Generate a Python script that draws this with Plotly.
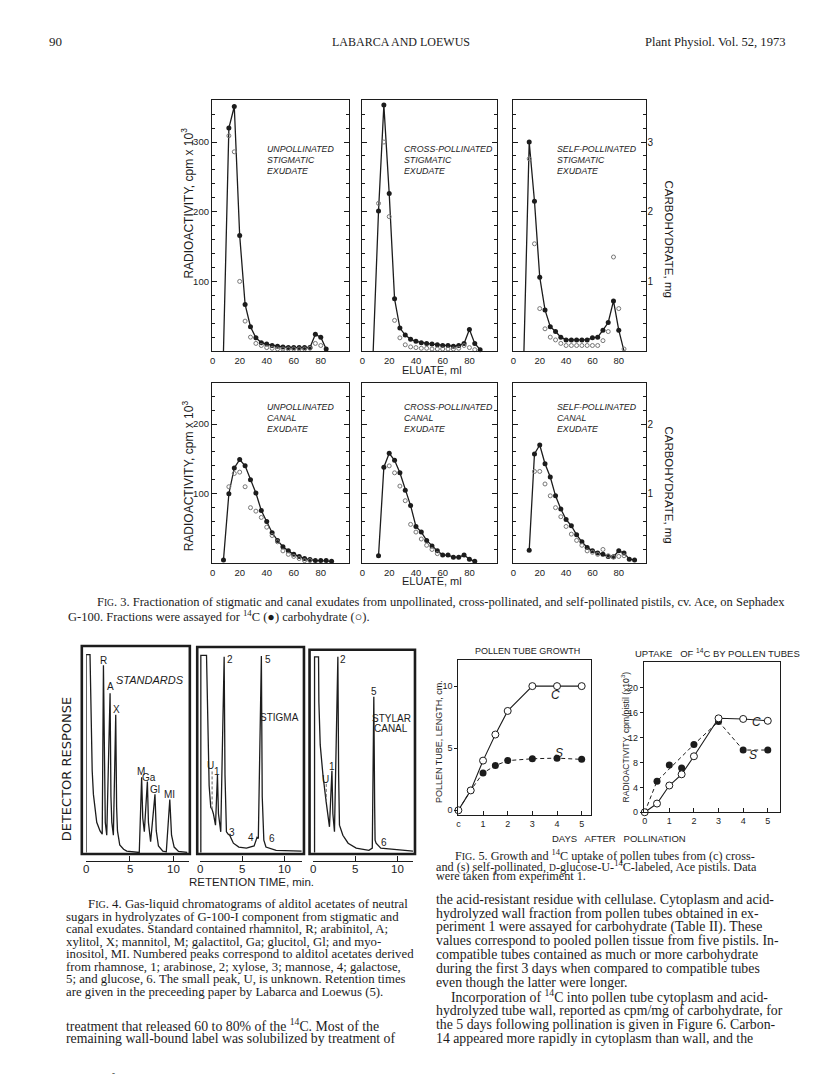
import plotly.graph_objects as go

W, H = 816, 1091
SANS = "Liberation Sans, Arial, sans-serif"
SERIF = "Liberation Serif, Times New Roman, serif"
INK = "#1c1c1c"

# ---------------- Fig. 3: eluate (ml), 14C (cpm x 10^3), carbohydrate (mg) ----------------
ELU_US = [8, 12, 16, 20, 24, 28, 32, 36, 40, 44, 48, 52, 56, 60, 64, 68, 72, 76, 80, 84]
CPM_US = [0, 320, 351, 166, 67, 35, 19, 12, 10, 8, 7, 6, 5, 5, 5, 5, 5, 24, 20, 3]
ELU_US_C = [12, 16, 20, 24, 28, 32, 36, 40, 44, 48, 52, 56, 60, 64, 68, 72, 76, 80]
CHO_US = [3.09, 2.86, 1.0, 0.43, 0.2, 0.11, 0.08, 0.05, 0.04, 0.03, 0.03, 0.03, 0.03, 0.03, 0.03, 0.04, 0.11, 0.08]

ELU_CS = [8, 12, 16, 20, 24, 28, 32, 36, 40, 44, 48, 52, 56, 60, 64, 68, 72, 76, 80, 84, 88]
CPM_CS = [0, 201, 353, 226, 75, 33, 23, 17, 14, 12, 11, 10, 9, 8, 8, 7, 8, 11, 31, 11, 2]
ELU_CS_C = [12, 16, 20, 24, 28, 32, 36, 40, 44, 48, 52, 56, 60, 64, 68, 72, 76, 80, 84]
CHO_CS = [2.12, 3.0, 1.93, 0.44, 0.19, 0.09, 0.06, 0.05, 0.04, 0.04, 0.03, 0.03, 0.03, 0.03, 0.03, 0.04, 0.08, 0.05, 0.02]

ELU_SS = [8, 12, 16, 20, 24, 28, 32, 36, 40, 44, 48, 52, 56, 60, 64, 68, 72, 76, 80, 84]
CPM_SS = [0, 300, 215, 106, 59, 35, 28, 20, 16, 16, 16, 16, 16, 19, 20, 30, 41, 72, 30, 0]
ELU_SS_C = [12, 16, 20, 24, 28, 32, 36, 40, 44, 48, 52, 56, 60, 64, 68, 72, 76, 80, 84]
CHO_SS = [2.76, 1.54, 0.61, 0.32, 0.2, 0.16, 0.11, 0.08, 0.08, 0.08, 0.08, 0.08, 0.08, 0.08, 0.15, 0.28, 1.35, 0.61, 0.03]

ELU_UC = [8, 12, 16, 20, 24, 28, 32, 36, 40, 44, 48, 52, 56, 60, 64, 68, 72, 76, 80, 84, 88]
CPM_UC = [5, 100, 137, 149, 140, 120, 101, 76, 60, 44, 33, 24, 18, 13, 10, 7, 5.5, 4, 4, 4, 3]
ELU_UC_C = [12, 16, 20, 24, 28, 32, 36, 40, 44, 48, 52, 56, 60, 64, 68, 72]
CHO_UC = [1.1, 1.29, 1.31, 1.1, 0.8, 0.75, 0.66, 0.52, 0.4, 0.31, 0.18, 0.13, 0.1, 0.07, 0.04, 0.04]

ELU_CC = [12, 16, 20, 24, 28, 32, 36, 40, 44, 48, 52, 56, 60, 64, 68, 72, 76, 80, 84]
CPM_CC = [11, 138, 158, 148, 130, 105, 83, 53, 45, 33, 25, 18, 12, 12, 9, 9, 12, 6, 3]
ELU_CC_C = [20, 24, 28, 32, 36, 40, 44, 48, 52, 56]
CHO_CC = [1.4, 1.3, 1.11, 0.9, 0.56, 0.45, 0.35, 0.26, 0.2, 0.14]

ELU_SC = [12, 16, 20, 24, 28, 32, 36, 40, 44, 48, 52, 56, 60, 64, 68, 72, 76, 80, 84, 88, 92]
CPM_SC = [19, 157, 170, 143, 124, 97, 78, 63, 54, 41, 31, 23, 18, 15, 13, 10, 9.5, 18, 15, 6, 5]
ELU_SC_C = [16, 20, 24, 28, 32, 36, 40, 44, 48, 52, 56, 60, 64, 68, 72, 76, 80, 84]
CHO_SC = [1.32, 1.32, 1.14, 0.97, 0.8, 0.67, 0.53, 0.42, 0.33, 0.26, 0.18, 0.16, 0.13, 0.2, 0.11, 0.09, 0.1, 0.11]

FIG3 = [
    (("UNPOLLINATED", "STIGMATIC", "EXUDATE"), ELU_US, CPM_US, ELU_US_C, CHO_US),
    (("CROSS-POLLINATED", "STIGMATIC", "EXUDATE"), ELU_CS, CPM_CS, ELU_CS_C, CHO_CS),
    (("SELF-POLLINATED", "STIGMATIC", "EXUDATE"), ELU_SS, CPM_SS, ELU_SS_C, CHO_SS),
    (("UNPOLLINATED", "CANAL", "EXUDATE"), ELU_UC, CPM_UC, ELU_UC_C, CHO_UC),
    (("CROSS-POLLINATED", "CANAL", "EXUDATE"), ELU_CC, CPM_CC, ELU_CC_C, CHO_CC),
    (("SELF-POLLINATED", "CANAL", "EXUDATE"), ELU_SC, CPM_SC, ELU_SC_C, CHO_SC),
]

# ---------------- Fig. 4: retention time (min) vs detector response (%) ----------------
STD_T = [0.0, 0.0, 0.45, 0.5, 0.57, 0.7, 0.84, 1.0, 1.22, 1.6, 1.85, 1.99, 2.1, 2.2, 2.37, 2.75, 2.85,
         2.95, 3.13, 3.4, 3.5, 3.6, 3.86, 4.3, 4.66, 6.0, 6.1, 6.37, 6.5, 6.68, 7.03, 7.15, 7.4, 7.9,
         8.05, 8.3, 8.8, 9.2, 9.6, 9.8, 10.1, 10.6, 11.6]
STD_R = [4, 96, 96, 80, 58, 42, 31, 24, 18, 14, 12.5, 91, 30, 18, 12, 78, 30, 18, 12, 68, 25, 14,
         7.5, 5.5, 4.6, 4, 4, 39, 20, 13.6, 37, 18, 9, 31, 14, 7, 4.6, 4.3, 28.6, 12, 6.5, 4.5, 4]
STIG_T = [0.12, 0.12, 0.79, 0.82, 0.9, 0.99, 1.1, 1.29, 1.45, 1.6, 1.85, 2.08, 2.2, 2.47, 2.87, 2.97,
          3.14, 3.35, 3.53, 3.7, 3.96, 4.6, 5.5, 6.4, 6.6, 6.75, 6.9, 7.26, 7.36, 7.46, 7.55, 7.8, 9.0, 12.0]
STIG_R = [4, 95.7, 95.7, 90, 74, 51, 35, 25, 24, 22, 16.7, 40, 22, 13.6, 95, 40, 13.6, 12.5, 12, 10.5,
          8.3, 6.5, 6, 7, 9, 11, 10.5, 95.4, 30, 11, 9.7, 6.5, 5, 4.6]
CANAL_T = [0.19, 0.19, 0.66, 0.7, 0.86, 1.18, 1.56, 1.76, 1.95, 2.24, 2.35, 2.54, 2.94, 3.03, 3.13,
           3.53, 4.15, 5.1, 6.6, 7.0, 7.18, 7.28, 7.33, 7.45, 8.0, 11.8]
CANAL_R = [4, 95, 95, 74, 54, 40, 27.5, 21.3, 15.9, 42, 22, 13.6, 95, 40, 16.7, 12, 8.3, 6, 5, 6,
           76.4, 25, 9.7, 8.3, 6, 4.6]
U_STIG = (1.45, 24, 42)
U_CANAL = (1.57, 27.5, 36)
RT_TICKS = [0, 5, 10]

# ---------------- Fig. 5: days after pollination ----------------
DAYS = [0, 0.5, 1, 1.5, 2, 3, 4, 5]
GROWTH_C = [0, 1.6, 4.0, 6.1, 8.0, 10, 10, 10]
GROWTH_S = [0, 1.6, 3.0, 3.6, 4.0, 4.15, 4.2, 4.1]
UPTAKE_C = [0, 1.4, 4.3, 6.1, 9.0, 15.1, 15.0, 14.7]
UPTAKE_S = [0, 5.0, 7.6, 7.1, 10.9, 14.6, 10.0, 10.0]
UPTAKE_S_LINE = [0, 1, 4, 5, 6, 7]  # indices the dashed S line runs through

# ---------------- page text ----------------
FIG3_CAPTION = [
    "F<span style='font-size:9.5px'>IG</span>. 3. Fractionation of stigmatic and canal exudates from unpollinated, cross-pollinated, and self-pollinated pistils, cv. Ace, on Sephadex",
    "G-100. Fractions were assayed for <sup>14</sup>C (●) carbohydrate (○).",
]
FIG4_CAPTION = [
    "F<span style='font-size:10px'>IG</span>. 4. Gas-liquid chromatograms of alditol acetates of neutral",
    "sugars in hydrolyzates of G-100-I component from stigmatic and",
    "canal exudates. Standard contained rhamnitol, R; arabinitol, A;",
    "xylitol, X; mannitol, M; galactitol, Ga; glucitol, Gl; and myo-",
    "inositol, MI. Numbered peaks correspond to alditol acetates derived",
    "from rhamnose, 1; arabinose, 2; xylose, 3; mannose, 4; galactose,",
    "5; and glucose, 6. The small peak, U, is unknown. Retention times",
    "are given in the preceeding paper by Labarca and Loewus (5).",
]
BODY_LEFT = [
    "treatment that released 60 to 80% of the <sup>14</sup>C. Most of the",
    "remaining wall-bound label was solubilized by treatment of",
]
FIG5_CAPTION = [
    "F<span style='font-size:10px'>IG</span>. 5. Growth and <sup>14</sup>C uptake of pollen tubes from (c) cross-",
    "and (s) self-pollinated, <span style='font-size:9.5px'>D</span>-glucose-U-<sup>14</sup>C-labeled, Ace pistils. Data",
    "were taken from experiment 1.",
]
BODY_RIGHT = [
    "the acid-resistant residue with cellulase. Cytoplasm and acid-",
    "hydrolyzed wall fraction from pollen tubes obtained in ex-",
    "periment 1 were assayed for carbohydrate (Table II). These",
    "values correspond to pooled pollen tissue from five pistils. In-",
    "compatible tubes contained as much or more carbohydrate",
    "during the first 3 days when compared to compatible tubes",
    "even though the latter were longer.",
    "Incorporation of <sup>14</sup>C into pollen tube cytoplasm and acid-",
    "hydrolyzed tube wall, reported as cpm/mg of carbohydrate, for",
    "the 5 days following pollination is given in Figure 6. Carbon-",
    "14 appeared more rapidly in cytoplasm than wall, and the",
]

fig = go.Figure()
lay = dict(width=W, height=H, margin=dict(l=0, r=0, t=0, b=0, pad=0),
           paper_bgcolor="white", plot_bgcolor="rgba(0,0,0,0)", showlegend=False,
           font=dict(family=SANS, size=10, color=INK))
count = {"x": 0, "y": 0}
annos, shapes = [], []


def alloc(kind):
    count[kind] += 1
    return kind if count[kind] == 1 else f"{kind}{count[kind]}"


def akey(aid):
    return aid[0] + "axis" + aid[1:]


def hx(x0, x1):
    return [x0 / W, x1 / W]


def vy(top, bottom):
    return [1 - bottom / H, 1 - top / H]


def label(text, x, y, size=10, family=SANS, xanchor="center", angle=0, xref="paper"):
    annos.append(dict(text=text, x=x / W if xref == "paper" else x, y=1 - y / H,
                      xref=xref, yref="paper", showarrow=False, xanchor=xanchor,
                      yanchor="middle", textangle=angle, borderpad=0,
                      font=dict(size=size, family=family, color=INK)))


# ---- Fig. 3 panels
COLS = [(210.5, 348), (360.7, 496.7), (512, 646)]
ROWS = [(100, 352.7, 361), (385, 566, 258.6)]
TAG_X = [265, 402, 555]
TAG_Y = [149.5, 409]
MINOR = [20, 40, 60, 80, 120, 140, 160, 180, 220, 240, 260, 280, 320, 340]

for i, (tag, ex, cpm, ecx, cho) in enumerate(FIG3):
    r, c = divmod(i, 3)
    x0, x1 = COLS[c]
    top, bot, ymax = ROWS[r]
    xa, ya, yc = alloc("x"), alloc("y"), alloc("y")
    lay[akey(xa)] = dict(domain=hx(x0, x1), range=[-0.5, 101], anchor=ya, showline=True,
                         mirror=True, linecolor=INK, linewidth=1.2, ticks="",
                         tickvals=[0, 20, 40, 60, 80], tickfont=dict(size=9.5),
                         showgrid=False, zeroline=False)
    lay[akey(ya)] = dict(domain=vy(top, bot), range=[0, ymax], anchor=xa, showline=True,
                         mirror="ticks", linecolor=INK, linewidth=1.2, ticks="inside",
                         ticklen=5, tickcolor=INK, tickvals=[100, 200, 300],
                         showticklabels=(c == 0), tickfont=dict(size=9.5),
                         minor=dict(tickmode="array", tickvals=MINOR, ticks="inside",
                                    ticklen=3, tickcolor=INK),
                         showgrid=False, zeroline=False)
    lay[akey(yc)] = dict(overlaying=ya, side="right", anchor=xa, range=[0, ymax / 100],
                         showticklabels=(c == 2), tickvals=[1, 2, 3], ticks="",
                         tickfont=dict(size=10), showgrid=False, zeroline=False,
                         showline=False)

    fig.add_trace(go.Scatter(x=ecx, y=cho, xaxis=xa, yaxis=yc, mode="markers",
                             marker=dict(symbol="circle-open", size=4, color="#777",
                                         line=dict(width=1)), cliponaxis=False))
    fig.add_trace(go.Scatter(x=ex, y=cpm, xaxis=xa, yaxis=ya, mode="lines",
                             line=dict(color=INK, width=1.3)))
    mx = [a for a, b in zip(ex, cpm) if b > 0]
    my = [b for b in cpm if b > 0]
    fig.add_trace(go.Scatter(x=mx, y=my, xaxis=xa, yaxis=ya, mode="markers",
                             marker=dict(size=5, color=INK), cliponaxis=False))
    for k, word in enumerate(tag):
        label(f"<i>{word}</i>", TAG_X[c], TAG_Y[r] + 11.2 * k, size=8.8, xanchor="left")

label("RADIOACTIVITY, cpm x 10<sup>3</sup>", 186, 204, size=12, angle=-90)
label("RADIOACTIVITY, cpm x 10<sup>3</sup>", 186, 478, size=12, angle=-90)
label("CARBOHYDRATE, mg", 669, 240, size=11.5, angle=90)
label("CARBOHYDRATE, mg", 669, 487, size=11.5, angle=90)
label("ELUATE, ml", 431.5, 372, size=11)
label("ELUATE, ml", 431.5, 584, size=11)

# ---- Fig. 4 chromatograms
F4_BOX = [(80, 188.3, 649), (195.7, 302.7, 650), (308.3, 414, 652.7)]
F4_AX = [(84.3, 187, 8.74), (198.3, 301, 8.5), (311.7, 412, 8.5)]
F4_DATA = [(STD_T, STD_R, None), (STIG_T, STIG_R, U_STIG), (CANAL_T, CANAL_R, U_CANAL)]
for k, (tt, rr, u) in enumerate(F4_DATA):
    xa, ya = alloc("x"), alloc("y")
    l, rgt, sc = F4_AX[k]
    lay[akey(xa)] = dict(domain=hx(l, rgt), range=[0, (rgt - l) / sc], anchor=ya,
                         showline=True, linecolor=INK, linewidth=1, ticks="inside",
                         ticklen=5, tickcolor=INK, tickvals=RT_TICKS, showticklabels=False,
                         showgrid=False, zeroline=False)
    lay[akey(ya)] = dict(domain=vy(649, 865), range=[0, 100], anchor=xa, visible=False)
    fig.add_trace(go.Scatter(x=tt, y=rr, xaxis=xa, yaxis=ya, mode="lines",
                             line=dict(color=INK, width=1.3)))
    if u:
        fig.add_trace(go.Scatter(x=[u[0], u[0]], y=[u[1], u[2]], xaxis=xa, yaxis=ya,
                                 mode="lines", line=dict(color="#666", width=1, dash="3px,2px")))
    for t in RT_TICKS:
        label(str(t), t, 873.5, size=11.5, xref=xa)
    bx0, bx1, btop = F4_BOX[k]
    shapes.append(dict(type="rect", xref="paper", yref="paper", x0=bx0 / W, x1=bx1 / W,
                       y0=1 - 858 / H, y1=1 - btop / H, line=dict(color=INK, width=2.6)))

for txt, x, y in [("R", 101.7, 664), ("A", 108.3, 690), ("X", 114.5, 713), ("M", 139.3, 775),
                  ("Ga", 147.5, 781), ("Gl", 153, 793), ("MI", 168.3, 798),
                  ("U", 209.3, 769), ("1", 216, 775), ("2", 228.3, 663), ("3", 231, 836),
                  ("4", 250, 841), ("5", 266.7, 663), ("6", 270.5, 842),
                  ("U", 324, 783), ("1", 331, 770), ("2", 342.3, 662.5), ("5", 372.7, 695),
                  ("6", 383, 846)]:
    label(txt, x, y, size=10)
label("<i>STANDARDS</i>", 148.3, 683, size=11)
label("STIGMA", 278.3, 721, size=10)
label("STYLAR", 390, 721.5, size=10)
label("CANAL", 390, 731.5, size=10)
label("DETECTOR RESPONSE", 65, 772, size=13, family="DejaVu Sans", angle=-90)
label("RETENTION TIME, min.", 250, 886, size=11.5)

# ---- Fig. 5
xa, ya = alloc("x"), alloc("y")
lay[akey(xa)] = dict(domain=hx(457.5, 590), range=[0, 5.36], anchor=ya, showline=True,
                     mirror=True, linecolor=INK, linewidth=1, ticks="inside", ticklen=4,
                     tickcolor=INK, tickvals=[0, 1, 2, 3, 4, 5],
                     ticktext=["c", "1", "2", "3", "4", "5"], tickfont=dict(size=9),
                     showgrid=False, zeroline=False)
lay[akey(ya)] = dict(domain=vy(662.7, 819), range=[-0.4, 12.13], anchor=xa, showline=True,
                     mirror=True, linecolor=INK, linewidth=1, ticks="outside", ticklen=3,
                     tickcolor=INK, tickvals=[0, 5, 10], tickfont=dict(size=9),
                     showgrid=False, zeroline=False)
fig.add_trace(go.Scatter(x=DAYS, y=GROWTH_S, xaxis=xa, yaxis=ya, mode="lines",
                         line=dict(color=INK, width=1, dash="4px,3px")))
fig.add_trace(go.Scatter(x=DAYS[1:], y=GROWTH_S[1:], xaxis=xa, yaxis=ya, mode="markers",
                         marker=dict(size=7, color=INK), cliponaxis=False))
fig.add_trace(go.Scatter(x=DAYS, y=GROWTH_C, xaxis=xa, yaxis=ya, mode="lines+markers",
                         line=dict(color=INK, width=1.1),
                         marker=dict(size=7, color="white", line=dict(color=INK, width=1)),
                         cliponaxis=False))

xa, ya = alloc("x"), alloc("y")
lay[akey(xa)] = dict(domain=hx(643.3, 780), range=[-0.04, 5.5], anchor=ya, showline=True,
                     mirror=True, linecolor=INK, linewidth=1, ticks="inside", ticklen=4,
                     tickcolor=INK, tickvals=[0, 1, 2, 3, 4, 5], tickfont=dict(size=9),
                     showgrid=False, zeroline=False)
lay[akey(ya)] = dict(domain=vy(665, 816), range=[0, 24.16], anchor=xa, showline=True,
                     mirror=True, linecolor=INK, linewidth=1, ticks="outside", ticklen=3,
                     tickcolor=INK, tickvals=[0, 4, 8, 12, 16, 20], tickfont=dict(size=9),
                     showgrid=False, zeroline=False)
fig.add_trace(go.Scatter(x=[DAYS[j] for j in UPTAKE_S_LINE], y=[UPTAKE_S[j] for j in UPTAKE_S_LINE],
                         xaxis=xa, yaxis=ya, mode="lines",
                         line=dict(color=INK, width=1, dash="4px,3px")))
fig.add_trace(go.Scatter(x=DAYS[1:], y=UPTAKE_S[1:], xaxis=xa, yaxis=ya, mode="markers",
                         marker=dict(size=7, color=INK), cliponaxis=False))
fig.add_trace(go.Scatter(x=DAYS, y=UPTAKE_C, xaxis=xa, yaxis=ya, mode="lines+markers",
                         line=dict(color=INK, width=1.1),
                         marker=dict(size=7, color="white", line=dict(color=INK, width=1)),
                         cliponaxis=False))

label("POLLEN TUBE GROWTH", 526.7, 654, size=9)
label("UPTAKE\u00a0\u00a0 OF <sup>14</sup>C BY POLLEN TUBES", 717, 656, size=9.5)
label("POLLEN TUBE, LENGTH, cm.", 437.5, 745, size=9, angle=-90)
label("RADIOACTIVITY, cpm/pistil (x10<sup>3</sup>)", 625.5, 740, size=8.6, angle=-90)
label("DAYS\u00a0\u00a0 AFTER\u00a0\u00a0 POLLINATION", 619, 842, size=9.5)
label("<i>C</i>", 555, 698, size=12)
label("<i>S</i>", 558.3, 756, size=12)
label("<i>C</i>", 756.7, 725, size=12)
label("<i>S</i>", 753.3, 758, size=12)

# ---- page text
label("90", 46, 42, size=13, family=SERIF, xanchor="left")
label("LABARCA AND LOEWUS", 400, 42, size=12, family=SERIF)
label("Plant Physiol. Vol. 52, 1973", 787, 42, size=12.6, family=SERIF, xanchor="right")

label(FIG3_CAPTION[0], 94, 605, size=12.5, family=SERIF, xanchor="left")
label(FIG3_CAPTION[1], 65, 619, size=12.5, family=SERIF, xanchor="left")

for k, line in enumerate(FIG4_CAPTION):
    label(line, 85 if k == 0 else 63, 908.3 + 12.6 * k, size=12.8, family=SERIF, xanchor="left")
for k, line in enumerate(BODY_LEFT):
    label(line, 63, 1029.3 + 13.5 * k, size=13.8, family=SERIF, xanchor="left")
label("-", 112, 1078, size=9, family=SERIF)

for k, line in enumerate(FIG5_CAPTION):
    label(line, 453 if k == 0 else 434, 858.5 + 11 * k, size=12.2, family=SERIF, xanchor="left")
for k, line in enumerate(BODY_RIGHT):
    label(line, 449 if k == 7 else 434, 903.3 + 13.95 * k, size=13.8, family=SERIF, xanchor="left")

lay["annotations"] = annos
lay["shapes"] = shapes
fig.update_layout(**lay)
fig.write_html("out.html", config={"displayModeBar": False},
               post_script="document.body.style.margin='0px';")
